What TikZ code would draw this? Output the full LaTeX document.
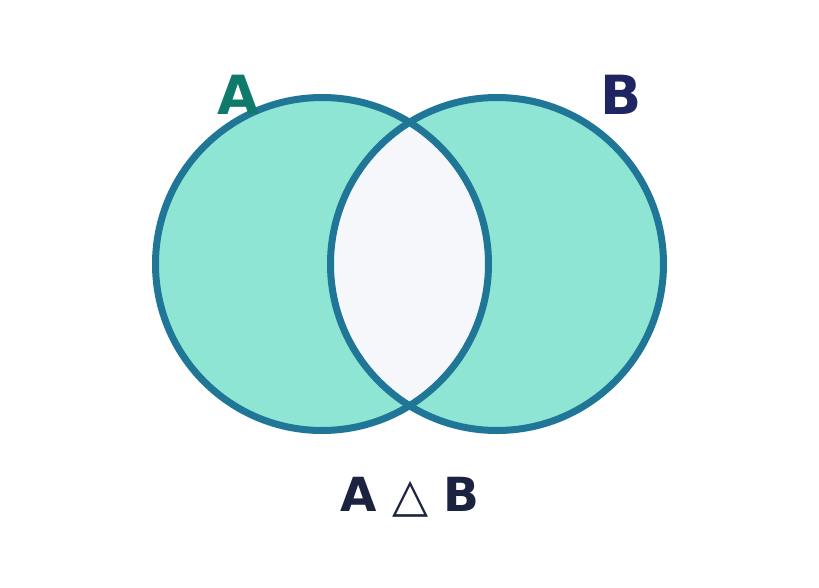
\documentclass[tikz,border=0pt]{standalone}
\usepackage{fontspec}
\setmainfont{DejaVu Sans}
\usepackage{tikz}
\usetikzlibrary{positioning}

\definecolor{ringblue}{HTML}{1F7697}
\definecolor{setfill}{HTML}{8EE5D3}
\definecolor{lensfill}{HTML}{F5F7FB}
\definecolor{labela}{HTML}{0F7A6A}
\definecolor{labelb}{HTML}{1F2462}
\definecolor{symdark}{HTML}{1C2340}

\tikzset{
  setcirc/.style={circle, inner sep=0pt, minimum size=333pt, fill=setfill},
  ring/.style={draw=ringblue, line width=7pt},
  setname/.style={font=\bfseries\fontsize{54}{54}\selectfont, inner sep=0pt}
}

\begin{document}
\begin{tikzpicture}[x=1pt, y=-1pt, node distance={175pt}]
\useasboundingbox (0,0) rectangle (819,587);
\node (A) [setcirc] at (322,264) {};
\node (B) [setcirc, right of=A] {};

% the part both sets share
\begin{scope}
\clip (A.center) circle (166.5);
\fill[lensfill] (B.center) circle (166.5);
\end{scope}

\draw[ring] (A.center) circle (166.5);
\draw[ring] (B.center) circle (166.5);

\node (nameA) [setname, text=labela] at (238,95) {A};
\node (nameB) [setname, text=labelb] at (621,95) {B};
\node (symdiff) [text=symdark, font=\fontsize{47}{47}\selectfont, inner sep=0pt] at (410,497)
  {\textbf{A} △ \textbf{B}};

\end{tikzpicture}
\end{document}
